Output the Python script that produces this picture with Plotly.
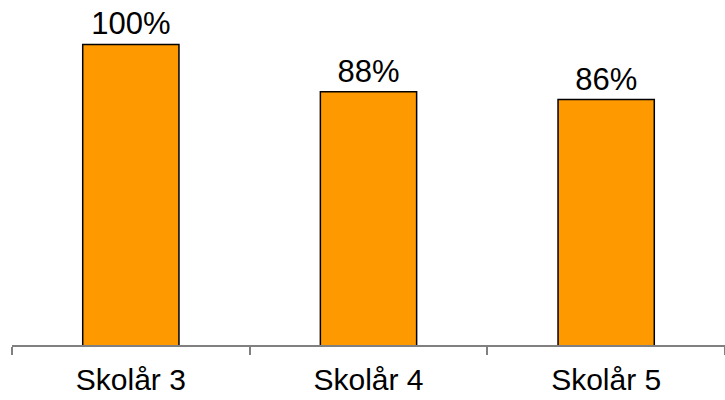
import plotly.graph_objects as go

# Andel elever per skolår
categories = ["Skolår 3", "Skolår 4", "Skolår 5"]
values = [100, 88, 86]
labels = ["100%", "88%", "86%"]

fig = go.Figure(
    go.Bar(
        x=categories,
        y=values,
        text=labels,
        textposition="outside",
        cliponaxis=False,
        textfont=dict(family="Liberation Sans, Arial, sans-serif", size=31, color="black"),
        marker=dict(color="#FF9900", line=dict(color="black", width=1.5)),
        width=0.405,
    )
)

fig.update_layout(
    width=725,
    height=400,
    margin=dict(l=12, r=0, t=20, b=55, autoexpand=False),
    plot_bgcolor="white",
    paper_bgcolor="white",
    showlegend=False,
    font=dict(family="Liberation Sans, Arial, sans-serif", color="black"),
)

fig.update_xaxes(
    showline=True,
    linecolor="#808080",
    linewidth=1.5,
    ticks="outside",
    tickson="boundaries",
    ticklen=8,
    tickcolor="#808080",
    tickwidth=1.5,
    tickfont=dict(size=30, color="black"),
    ticklabelstandoff=7,
    showgrid=False,
    automargin=False,
)

fig.update_yaxes(
    range=[23.7, 106.2],
    visible=False,
    showgrid=False,
    automargin=False,
)

fig.write_html("out.html")
